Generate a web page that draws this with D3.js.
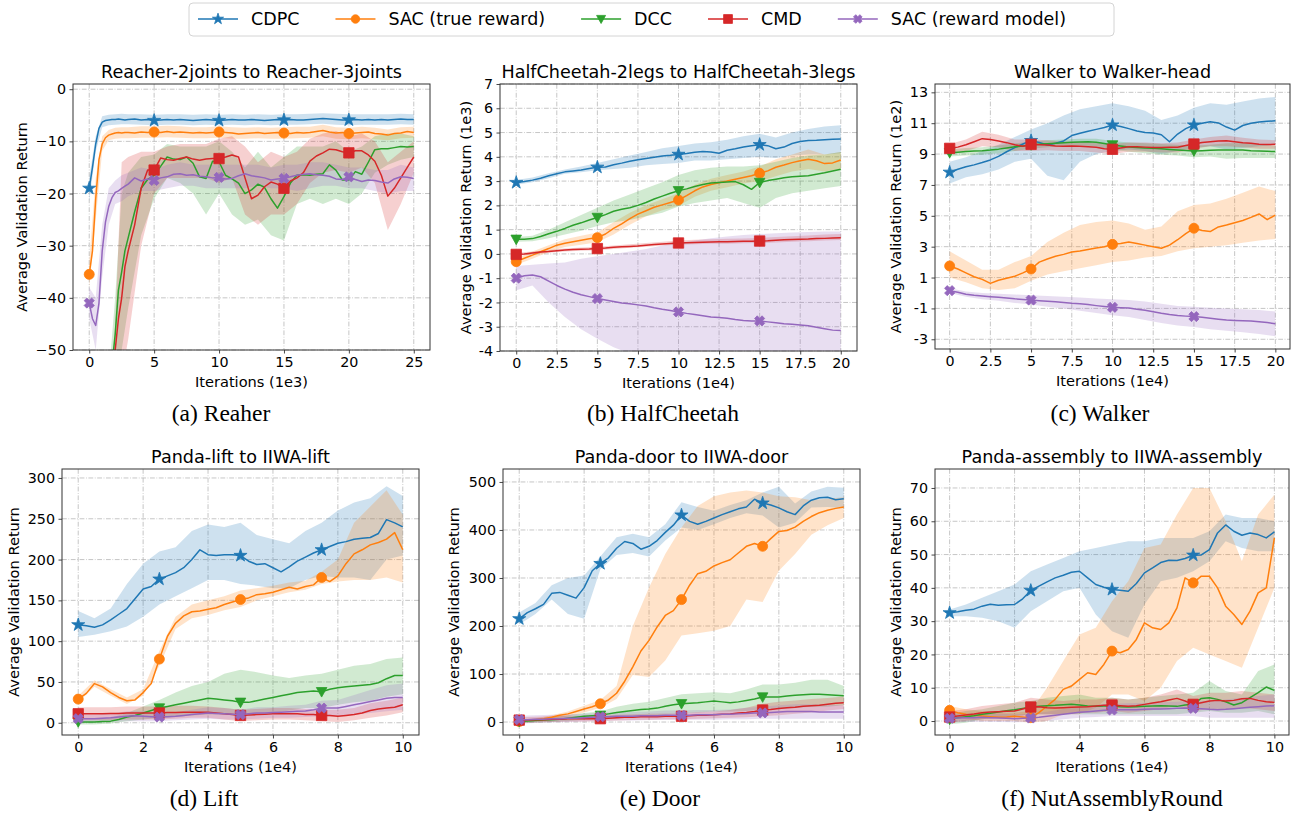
<!DOCTYPE html>
<html><head><meta charset="utf-8">
<script src="https://cdn.jsdelivr.net/npm/d3@7"></script>
<style>
body{margin:0;background:#fff}
svg{display:block}
text{font-family:"DejaVu Sans",sans-serif;fill:#000}
</style>
</head><body>
<svg id="chart" width="1294" height="819"></svg>
<script>
// ---------------- series meta ----------------
const seriesNames = ["CDPC","SAC (true reward)","DCC","CMD","SAC (reward model)"];
const seriesColors = ["#1f77b4","#ff7f0e","#2ca02c","#d62728","#9467bd"];
const seriesMarkers = ["star","circle","tri","square","x"];

// ---------------- text ----------------
const titles = ["Reacher-2joints to Reacher-3joints","HalfCheetah-2legs to HalfCheetah-3legs","Walker to Walker-head",
  "Panda-lift to IIWA-lift","Panda-door to IIWA-door","Panda-assembly to IIWA-assembly"];
const captions = ["(a) Reaher","(b) HalfCheetah","(c) Walker","(d) Lift","(e) Door","(f) NutAssemblyRound"];
const yLabels = ["Average Validation Return","Average Validation Return (1e3)","Average Validation Return (1e2)",
  "Average Validation Return","Average Validation Return","Average Validation Return"];
const xLabels = ["Iterations (1e3)","Iterations (1e4)","Iterations (1e4)","Iterations (1e4)","Iterations (1e4)","Iterations (1e4)"];

// ---------------- ticks ----------------
const xTicksA = [0,5,10,15,20,25];
const xTicksBC = [0,2.5,5,7.5,10,12.5,15,17.5,20];
const xTicksDEF = [0,2,4,6,8,10];
const yTicksA = [0,-10,-20,-30,-40,-50];
const yTicksB = [7,6,5,4,3,2,1,0,-1,-2,-3,-4];
const yTicksC = [13,11,9,7,5,3,1,-1,-3];
const yTicksD = [0,50,100,150,200,250,300];
const yTicksE = [0,100,200,300,400,500];
const yTicksF = [0,10,20,30,40,50,60,70];

// ---------------- marker positions ----------------
const markA = [0,5,10,15,20];
const markBC = [0,5,10,15];
const markDEF = [0,2.5,5,7.5];

// ================= Panel A: Reacher =================
const xA = [0,0.25,0.5,0.75,1,1.25,1.5,1.75,2,2.25,2.5,2.75,3,3.5,4,4.5,5,5.5,6,6.5,7,7.5,8,8.5,9,9.5,10,10.5,11,11.5,12,12.5,13,13.5,14,14.5,15,15.5,16,16.5,17,17.5,18,18.5,19,19.5,20,20.5,21,21.5,22,22.5,23,23.5,24,24.5,25];
const bandXA = [0,0.5,1,1.5,2,2.5,3,4,5,6,7,8,9,10,11,12,13,14,15,16,17,18,19,20,21,22,23,24,25];
const cdpcA = [-19,-15,-10.5,-7.5,-6.3,-6,-5.9,-5.8,-5.8,-5.7,-5.8,-5.9,-5.8,-5.7,-5.9,-5.8,-6,-5.9,-5.8,-5.9,-5.8,-5.9,-6,-5.9,-5.8,-5.9,-6,-5.9,-5.8,-5.9,-5.9,-5.8,-5.9,-6,-5.9,-5.8,-5.9,-5.8,-5.9,-5.9,-5.8,-5.7,-5.6,-5.7,-5.8,-5.9,-5.9,-5.8,-5.9,-5.8,-5.9,-5.8,-5.9,-5.8,-5.7,-5.8,-5.8];
const cdpcLoA = [-21.5,-12,-7.3,-6.9,-6.8,-6.7,-6.7,-6.8,-6.9,-6.8,-6.8,-6.9,-6.8,-6.9,-6.8,-6.9,-6.8,-6.9,-6.8,-6.8,-6.7,-6.6,-6.8,-6.9,-6.8,-6.8,-6.8,-6.7,-6.8];
const cdpcHiA = [-17,-9,-5.2,-4.9,-4.8,-4.7,-4.8,-4.8,-4.9,-4.8,-4.8,-4.9,-4.8,-4.9,-4.8,-4.9,-4.8,-4.9,-4.8,-4.8,-4.7,-4.6,-4.7,-4.8,-4.8,-4.8,-4.8,-4.7,-4.8];
const sacA = [-35.5,-31,-21,-13.5,-10.5,-9.3,-8.8,-8.6,-8.4,-8.3,-8.4,-8.3,-8.3,-8.4,-8.2,-8.3,-8.2,-8.3,-8.1,-8.3,-8.2,-8.3,-8.4,-8.3,-8.4,-8.3,-8.2,-8.3,-8.4,-8.6,-8.5,-8.4,-8.3,-8.5,-8.4,-8.3,-8.4,-8.5,-8.3,-8.4,-8.3,-8.1,-7.9,-8.2,-8.4,-8.3,-8.5,-8.4,-8.3,-8.2,-8.5,-8.6,-8.8,-8.5,-8.4,-8.1,-8.3];
const sacLoA = [-38,-25,-11.8,-9.8,-9.5,-9.4,-9.4,-9.3,-9.3,-9.2,-9.3,-9.4,-9.4,-9.3,-9.5,-9.5,-9.4,-9.5,-9.5,-9.4,-9.3,-9,-9.5,-9.6,-9.4,-9.6,-9.8,-9.4,-9.3];
const sacHiA = [-33,-17,-9,-7.8,-7.4,-7.3,-7.3,-7.1,-7.1,-7,-7.1,-7.3,-7.3,-7.1,-7.3,-7.4,-7.3,-7.4,-7.3,-7.2,-7.2,-6.8,-7.3,-7.4,-7.2,-7.4,-7.7,-7.3,-7.2];
const dccA = [-95,-93,-90,-86,-80,-72,-63,-53,-47,-38.5,-35,-31,-28.5,-23.5,-19,-17.3,-16.5,-14.8,-13,-13.4,-13.5,-13,-14.2,-16.8,-17.1,-13.8,-13.9,-16.5,-17.2,-18,-20,-19.3,-18.2,-18.8,-21,-22.8,-20.6,-18,-16.5,-16.4,-16.5,-16.3,-16.2,-14.5,-15.5,-17.4,-17.4,-15.8,-16.3,-14,-11.6,-11.4,-11.4,-11.2,-11,-11.1,-11];
const dccLoA = [-100,-100,-95,-78,-60,-50,-42,-28,-21,-17,-18,-20,-24,-20,-24,-26,-25,-28,-29,-22,-21,-22,-21,-22,-20,-16,-14.5,-13.5,-13];
const dccHiA = [-85,-80,-68,-55,-40,-20,-16,-13,-12.5,-10.5,-11,-11,-11,-10,-12,-15,-12,-15,-13,-11,-11,-11,-10,-12,-11,-9,-8.5,-8.5,-9];
const cmdA = [-98,-96,-94,-90,-84,-77,-68,-58,-50,-44,-40,-34,-31,-26,-19,-15.5,-15.5,-13.2,-13.5,-13.6,-13.3,-13,-13.4,-13.6,-13.4,-13.3,-13.3,-13,-12.6,-13,-17,-21,-20.3,-18.7,-17.8,-18.2,-19,-17.6,-17,-16,-13.8,-12.8,-12.2,-11.5,-11.6,-12,-12.2,-11.8,-11.8,-12.6,-13.8,-16.5,-20.5,-19,-17,-15,-13];
const cmdLoA = [-105,-100,-95,-82,-65,-55,-48,-30,-20,-17,-17,-17,-17,-18,-17,-24,-26,-24,-24,-22,-18,-16,-15.5,-16,-15,-18,-27,-22,-16];
const cmdHiA = [-90,-85,-78,-70,-45,-14,-13,-12,-12,-11,-10.5,-10.5,-10.5,-9.5,-9,-11,-14,-12,-13,-12,-9.5,-8.5,-8,-9,-8.5,-10,-14,-12,-10];
const rmA = [-41,-44,-45.3,-41,-31,-25.5,-22.5,-20.8,-19.8,-19.5,-19,-18.6,-18.2,-17,-17.6,-17.2,-17.5,-17,-16.8,-16.3,-16.2,-16.5,-16.4,-16.7,-16.8,-17,-16.9,-17.2,-17.1,-16.6,-16.2,-16.6,-16.8,-17,-17.4,-17.2,-17.1,-16.8,-16.5,-16.3,-16.2,-16.4,-16.5,-16.7,-17.2,-17.3,-16.8,-17.3,-17.7,-17.4,-17.5,-17.8,-18,-17.2,-16.8,-16.9,-17.1];
const rmLoA = [-44,-50,-36,-26,-22,-21.5,-20.5,-19.5,-19.5,-19,-18.5,-18.5,-19,-19,-19,-19,-18.5,-19,-19,-19.5,-19,-18.5,-18.5,-19,-19,-19.5,-20,-19.5,-19.5];
const rmHiA = [-38,-40,-26,-19,-17.5,-16.5,-16,-15,-15.5,-14.5,-14,-14.5,-14.5,-14.5,-14.5,-14.5,-14.5,-15,-14.5,-14.5,-14,-14,-14.5,-15,-15,-15.5,-15.5,-14.5,-15];

// ================= Panel B: HalfCheetah =================
const xB = [0,0.5,1,1.5,2,2.5,3,3.5,4,4.5,5,5.5,6,6.5,7,7.5,8,8.5,9,9.5,10,10.5,11,11.5,12,12.5,13,13.5,14,14.5,15,15.5,16,16.5,17,17.5,18,18.5,19,19.5,20];
const bandXB = [0,1,2,3,4,5,6,7,8,9,10,11,12,13,14,15,16,17,18,19,20];
const cdpcB = [2.94,2.98,3.04,3.12,3.22,3.3,3.38,3.42,3.46,3.52,3.57,3.58,3.67,3.74,3.82,3.88,3.93,3.98,4.03,4.06,4.1,4.14,4.19,4.22,4.2,4.15,4.27,4.33,4.4,4.46,4.5,4.46,4.33,4.4,4.55,4.63,4.67,4.68,4.7,4.72,4.73];
const cdpcLoB = [2.85,2.95,3.12,3.3,3.36,3.45,3.5,3.55,3.65,3.7,3.75,3.85,3.85,3.9,3.95,4.0,3.95,4.05,4.1,4.1,4.15];
const cdpcHiB = [3.05,3.15,3.32,3.48,3.6,3.75,3.9,4.05,4.2,4.35,4.45,4.55,4.6,4.7,4.85,4.95,4.8,5.0,5.15,5.25,5.3];
const sacB = [-0.32,-0.18,-0.05,0.09,0.22,0.36,0.44,0.5,0.56,0.62,0.67,0.82,1.05,1.24,1.45,1.64,1.78,1.92,2.02,2.12,2.22,2.4,2.6,2.76,2.86,2.93,3.0,3.08,3.15,3.22,3.32,3.42,3.57,3.66,3.76,3.84,3.9,3.84,3.72,3.75,3.87];
const sacLoB = [-0.45,-0.2,0.08,0.28,0.38,0.48,0.8,1.2,1.55,1.8,1.98,2.35,2.6,2.75,2.9,3.0,3.2,3.4,3.5,3.4,3.5];
const sacHiB = [-0.2,0.1,0.36,0.6,0.75,0.88,1.3,1.7,2.0,2.25,2.5,2.85,3.1,3.25,3.4,3.6,3.9,4.1,4.3,4.1,4.2];
const dccB = [0.6,0.6,0.63,0.72,0.83,0.93,1.05,1.18,1.28,1.4,1.5,1.62,1.76,1.84,1.9,2.0,2.12,2.26,2.38,2.5,2.6,2.68,2.78,2.86,2.92,2.94,2.96,2.98,2.85,2.66,2.94,3.02,3.08,3.14,3.18,3.2,3.22,3.28,3.34,3.42,3.49];
const dccLoB = [0.5,0.52,0.65,0.8,0.95,1.15,1.3,1.4,1.55,1.7,1.95,2.1,2.2,2.3,2.1,1.9,2.3,2.5,2.6,2.7,2.8];
const dccHiB = [0.7,0.75,1.0,1.3,1.6,1.9,2.2,2.45,2.7,2.95,3.25,3.45,3.55,3.6,3.6,3.65,3.8,3.95,4.05,4.1,4.2];
const cmdB = [-0.02,0.0,0.04,0.08,0.1,0.13,0.16,0.18,0.19,0.2,0.22,0.24,0.27,0.29,0.31,0.33,0.36,0.39,0.41,0.43,0.45,0.46,0.47,0.48,0.49,0.5,0.5,0.51,0.52,0.52,0.53,0.54,0.56,0.58,0.59,0.6,0.61,0.63,0.64,0.66,0.67];
const cmdLoB = [-0.08,-0.02,0.05,0.1,0.13,0.15,0.2,0.25,0.3,0.35,0.38,0.4,0.42,0.42,0.44,0.45,0.47,0.5,0.52,0.55,0.57];
const cmdHiB = [0.05,0.1,0.16,0.22,0.26,0.3,0.35,0.4,0.45,0.5,0.55,0.58,0.6,0.62,0.64,0.66,0.7,0.73,0.76,0.8,0.82];
const rmB = [-1.0,-0.9,-0.87,-0.94,-1.12,-1.3,-1.45,-1.58,-1.68,-1.76,-1.84,-1.9,-1.96,-2.02,-2.05,-2.1,-2.15,-2.22,-2.28,-2.33,-2.39,-2.45,-2.5,-2.55,-2.6,-2.62,-2.65,-2.7,-2.74,-2.76,-2.76,-2.8,-2.84,-2.88,-2.9,-2.93,-2.96,-3.02,-3.08,-3.14,-3.16];
const rmLoB = [-1.5,-1.3,-2.0,-2.6,-3.1,-3.5,-3.85,-4.1,-4.4,-4.7,-5,-5.3,-5.6,-5.9,-6.2,-6.4,-6.6,-6.8,-7,-7.2,-7.4];
const rmHiB = [-0.5,-0.45,-0.4,-0.35,-0.2,-0.1,0.0,0.1,0.2,0.35,0.45,0.55,0.65,0.72,0.78,0.82,0.85,0.88,0.9,0.92,0.92];

// ================= Panel C: Walker =================
const xC = xB;
const bandXC = bandXB;
const cdpcC = [7.82,8.02,8.18,8.3,8.45,8.62,8.85,9.15,9.42,9.65,9.87,9.75,9.59,9.7,9.85,10.2,10.35,10.48,10.6,10.72,10.88,10.78,10.65,10.5,10.4,10.36,10.25,9.8,10.3,10.65,10.88,11.0,11.1,11.02,10.75,10.55,10.85,11.0,11.08,11.12,11.16];
const cdpcLoC = [7.1,7.5,7.7,8.0,8.5,8.7,7.6,7.3,8.5,9.0,9.2,9.3,9.2,9.0,9.2,9.4,9.5,9.3,9.4,9.5,9.6];
const cdpcHiC = [8.5,8.8,9.2,9.6,10.1,10.6,11.0,11.5,11.9,12.1,12.3,12.1,11.8,11.2,11.5,12.0,12.3,12.2,12.4,12.6,12.7];
const sacC = [1.75,1.55,1.3,1.05,0.88,0.62,0.82,0.95,1.08,1.3,1.55,2.0,2.2,2.38,2.5,2.66,2.72,2.82,2.92,3.0,3.15,3.2,3.3,3.2,3.1,3.0,2.9,3.1,3.45,3.85,4.19,4.05,3.98,4.28,4.4,4.55,4.7,4.9,5.12,4.75,5.05];
const sacLoC = [1.0,0.7,0.3,0.2,0.3,0.8,1.2,1.4,1.6,1.8,2.0,2.1,2.3,2.4,2.7,2.9,3.0,3.1,3.25,3.4,3.5];
const sacHiC = [2.7,2.1,1.5,1.5,2.0,2.4,3.3,3.9,4.4,4.6,4.7,4.5,4.1,4.3,5.3,5.7,5.8,6.1,6.5,6.9,6.6];
const dccC = [9.09,9.12,9.16,9.2,9.22,9.26,9.32,9.4,9.47,9.53,9.59,9.63,9.67,9.7,9.73,9.76,9.78,9.8,9.76,9.68,9.59,9.52,9.46,9.42,9.4,9.37,9.34,9.3,9.26,9.23,9.2,9.22,9.24,9.26,9.26,9.26,9.26,9.22,9.2,9.18,9.16];
const dccLoC = [8.85,8.9,8.95,9.05,9.2,9.35,9.45,9.5,9.55,9.5,9.3,9.15,9.05,8.95,8.9,8.8,8.85,8.7,8.75,8.75,8.75];
const dccHiC = [9.3,9.4,9.45,9.55,9.7,9.8,9.9,9.95,10.0,10.0,9.85,9.75,9.7,9.65,9.6,9.55,9.6,9.7,9.7,9.6,9.55];
const cmdC = [9.37,9.45,9.6,9.8,10.0,9.95,9.85,9.74,9.6,9.5,9.63,9.6,9.58,9.52,9.5,9.52,9.5,9.47,9.44,9.35,9.31,9.4,9.48,9.48,9.45,9.42,9.42,9.45,9.44,9.55,9.65,9.75,9.8,9.85,9.87,9.8,9.74,9.7,9.63,9.62,9.63];
const cmdLoC = [9.1,9.2,9.5,9.45,9.2,9.2,9.25,9.2,9.2,9.1,9.0,9.15,9.15,9.1,9.1,9.35,9.5,9.5,9.45,9.35,9.35];
const cmdHiC = [9.65,9.95,10.45,10.25,9.95,9.95,9.9,9.8,9.8,9.75,9.65,9.75,9.75,9.7,9.75,9.95,10.1,10.2,10.05,9.95,9.9];
const rmC = [0.15,0.05,-0.08,-0.15,-0.2,-0.24,-0.28,-0.32,-0.38,-0.42,-0.46,-0.5,-0.54,-0.57,-0.62,-0.67,-0.7,-0.75,-0.82,-0.88,-0.93,-0.95,-0.98,-1.05,-1.12,-1.22,-1.32,-1.4,-1.46,-1.5,-1.53,-1.58,-1.64,-1.7,-1.75,-1.78,-1.8,-1.82,-1.86,-1.92,-2.0];
const rmLoC = [0.0,-0.25,-0.4,-0.5,-0.65,-0.75,-0.9,-1.0,-1.15,-1.3,-1.45,-1.55,-1.75,-1.95,-2.1,-2.2,-2.35,-2.45,-2.55,-2.65,-2.8];
const rmHiC = [0.3,0.1,0.0,-0.05,-0.1,-0.15,-0.2,-0.25,-0.3,-0.35,-0.4,-0.45,-0.55,-0.7,-0.85,-0.9,-0.95,-1.0,-1.05,-1.1,-1.2];

// ================= Panels D/E/F shared grid =================
const xDEF = [0,0.25,0.5,0.75,1,1.25,1.5,1.75,2,2.25,2.5,2.75,3,3.25,3.5,3.75,4,4.25,4.5,4.75,5,5.25,5.5,5.75,6,6.25,6.5,6.75,7,7.25,7.5,7.75,8,8.25,8.5,8.75,9,9.25,9.5,9.75,10];
const bandXDEF = [0,0.5,1,1.5,2,2.5,3,3.5,4,4.5,5,5.5,6,6.5,7,7.5,8,8.5,9,9.5,10];

// ================= Panel D: Lift =================
const cdpcD = [120,119,117,120,126,133,140,152,164,167,176,180,184,190,200,212,206,205,206,206,205,198,194,195,190,185,191,198,203,208,212,216,220,222,225,226,227,232,249,245,240];
const cdpcLoD = [105,108,112,118,130,145,155,165,175,175,170,168,165,165,175,180,178,178,175,200,205];
const cdpcHiD = [137,128,140,170,195,210,215,235,243,240,245,230,225,220,235,245,260,270,275,290,278];
const sacD = [29,36,48,44,37,31,27,28,37,48,78,106,122,131,136,137,139,141,145,148,151,153,157,158,160,163,166,164,167,169,178,173,180,195,207,212,218,221,225,233,212];
const sacLoD = [25,44,33,23,33,70,115,128,132,138,142,150,155,160,163,170,173,175,175,178,172];
const sacHiD = [33,52,41,31,41,88,130,145,150,155,162,165,168,172,174,185,200,245,265,285,255];
const dccD = [1,1,1,1.5,2,4,7,9,12,15,18,20,22,24,26,28,30,29,28,27,25,25,27,29,31,33,35,37,38,39,38,41,43,44,45,46,47,49,54,58,58];
const dccLoD = [-2,-2,-1,2,4,6,7,9,10,10,8,10,12,15,18,18,22,25,27,32,35];
const dccHiD = [4,4,6,12,20,28,37,45,50,60,65,62,58,55,58,60,65,70,72,78,80];
const cmdD = [11,11,11,11,11.5,11.5,12,12,12,12,12,12.5,12.5,13,13,13,13,12,11,10,9,9.5,10,10.5,11,11,11,11,10,10,9,9,8,9,10,12,15,17,18,19,22];
const cmdLoD = [3,3,3,4,4,4,5,6,6,4,2,3,4,4,3,2,1,3,6,9,13];
const cmdHiD = [19,19,19,20,20,20,21,21,20,18,16,17,18,18,17,16,16,18,24,27,31];
const rmD = [5,5,5,5.5,6,7,8,8.5,8,7.5,7,7.5,8,9,10,11,12,11.5,11,10.5,10,11,12,12,12.5,13,13.5,14,14.5,16,18,18,18,20,22,24,26,28,30,31,31];
const rmLoD = [0,0,1,2,2,2,3,4,5,4,4,5,6,6,7,8,8,10,12,14,16];
const rmHiD = [10,10,11,14,14,12,13,16,19,18,16,19,19,21,22,27,28,34,40,46,48];

// ================= Panel E: Door =================
const cdpcE = [215,228,236,245,268,270,264,258,280,315,330,342,362,376,372,360,366,378,395,410,431,418,412,418,425,432,438,444,448,464,456,452,446,438,432,450,462,467,468,463,465];
const cdpcLoE = [203,225,255,225,215,318,348,352,345,378,405,400,412,425,435,430,405,415,447,448,445];
const cdpcHiE = [228,248,285,300,305,345,385,392,385,412,458,448,440,452,462,478,490,455,480,490,488];
const sacE = [1,3,5,7,10,14,17,22,27,32,38,46,60,85,115,148,170,198,222,232,255,285,309,314,325,332,338,352,366,372,366,382,397,399,406,418,428,436,441,445,448];
const sacLoE = [-2,2,6,12,20,30,48,98,94,128,180,185,190,200,255,250,315,350,390,410,425];
const sacHiE = [4,8,14,22,34,46,75,200,280,350,405,450,470,478,482,478,470,468,462,465,468];
const dccE = [1,2,3,4,5,6,8,10,12,13,14,17,20,22,24,26,27,29,33,36,38,39,40,42,44,42,40,42,45,48,52,52,52,54,56,57,58,58,57,56,55];
const dccLoE = [-3,-1,0,2,5,6,8,10,12,15,18,20,22,22,23,26,28,30,32,32,35];
const dccHiE = [5,7,10,14,19,22,32,38,42,50,58,60,62,60,68,78,78,82,88,88,75];
const cmdE = [4,4,5,5,6,6,7,7,7,7,7,8,9,10,10,11,11,11,12,12,12,13,14,14,15,16,17,19,20,22,25,26,28,30,31,33,34,35,37,39,40];
const cmdLoE = [-2,-1,0,1,1,2,3,4,5,6,6,7,8,9,10,12,14,17,20,24,27];
const cmdHiE = [10,11,12,13,13,13,15,16,17,18,18,21,22,25,30,38,42,45,48,50,53];
const rmE = [5,5,6,6,7,7,8,8,9,10,11,11,12,12,12,13,13,13,14,14,14,14,15,15,15,16,16,17,18,19,19,20,21,22,22,22,22,21,21,21,21];
const rmLoE = [-3,-2,-1,0,1,2,3,3,4,4,4,5,5,6,6,7,7,7,7,7,7];
const rmHiE = [13,14,15,16,17,19,21,21,22,24,24,25,25,26,30,32,35,37,37,36,35];

// ================= Panel F: NutAssemblyRound =================
const cdpcF = [32.5,32.8,33.3,33.6,34.5,35.1,34.8,34.9,35,36.7,39.2,40.5,41.8,43,43.8,44.7,45,43,41,40.2,39.5,39.3,39,41.3,44.5,46,47.6,48.3,48.2,48.8,49.8,49.9,51.5,56.5,58.9,57,55.8,56.5,56,55,56.8];
const cdpcLoF = [31.5,31.5,31,30,28,33,36,39,40,32,27,25,35,42,43,45,48,54,52,51,51];
const cdpcHiF = [33.5,35,37,39,41,45,47,49,51,52,53,54,54,55,55,55,57,62,61,61,60];
const sacF = [3.2,2.5,2,1.7,1.5,1.3,1.1,1.2,1.4,1.2,1.0,2.5,4.5,6.5,9.5,10.5,12.5,14.5,14,17,21,20.5,21.5,24.5,29.5,28,27.5,29.5,34,43,41.5,43.5,43.5,40,34.5,32,29,33,38.5,40,55];
const sacLoF = [2,0.5,0,0,0,-0.5,0,2,2,4,8,8,6,10,18,22,20,18,16,28,40];
const sacHiF = [4.5,3.5,3,2.5,2.5,3,10,18,26,28,36,42,52,53,62,70,70,60,48,62,68];
const dccF = [0.5,1,1.3,1.6,2,2.3,2.7,3.1,3.4,3.8,4.2,4.4,4.6,4.7,4.9,5,4.8,4.5,4.4,4.5,4.5,4.3,4.2,4.3,4.4,4.5,4.6,4.5,4.4,4.8,5,6.8,7,6.5,5.8,4.8,5.5,7,8.5,10.2,9.2];
const dccLoF = [-1,-0.5,0.5,1,1.5,2,2,2,2,2,2,2,2,2,2,2.5,3,2.5,2.5,3,2];
const dccHiF = [2,3,3.5,4.5,5.5,6,7,7.5,8,7,7,6.5,7,7.5,8,8.5,12,9,8,15,17];
const cmdF = [1.2,1.5,1.8,2.1,2.5,2.7,2.8,2.9,3.0,3.6,4.2,4.3,4.0,3.9,4.0,4.1,4.2,4.3,4.5,4.7,4.8,4.6,4.4,4.6,5.0,5.4,5.8,6.3,6.8,6.0,5.0,5.5,6.0,6.2,6.0,6.2,6.7,6.8,6.2,5.8,5.6];
const cmdLoF = [-0.5,0,0.5,1,1,2,2,2,2.5,2.5,3,2.5,3,3.5,4.5,3,3.5,3.5,4,3.5,3];
const cmdHiF = [3,3.5,4.5,5,5.5,7,6.5,6,6.5,6.5,7,6.5,7,8,9.5,7.5,8.5,8.5,9,8.5,8];
const rmF = [0.8,0.9,1,1,1.1,1,0.9,0.8,0.7,0.8,0.9,1.1,1.4,1.7,2.0,2.3,2.6,2.8,3.0,3.2,3.3,3.4,3.4,3.4,3.5,3.6,3.6,3.7,3.8,3.9,3.8,3.7,3.5,3.4,3.5,3.7,3.9,4.1,4.3,4.5,4.6];
const rmLoF = [-0.5,-0.3,-0.2,-0.3,-0.4,-0.3,0,0.5,1,1.2,1.5,1.5,1.5,1.5,1.5,1.5,1,1,1,1,1];
const rmHiF = [2,2.2,2.4,2.2,2,2.2,2.8,3.6,4.2,4.8,5.2,5.3,5.4,5.6,5.8,6,6,6.5,7,7.5,8];

// ---------------- assemble panels ----------------
const hyphenFmt = d => String(d);
const minusFmt = d3.format("d");
const panels = [
  {x:xA, bx:bandXA, xt:xTicksA, yt:yTicksA, yf:minusFmt,
   s:[[cdpcA,cdpcLoA,cdpcHiA,markA],[sacA,sacLoA,sacHiA,markA],[dccA,dccLoA,dccHiA,[]],[cmdA,cmdLoA,cmdHiA,markA],[rmA,rmLoA,rmHiA,markA]]},
  {x:xB, bx:bandXB, xt:xTicksBC, yt:yTicksB, yf:hyphenFmt,
   s:[[cdpcB,cdpcLoB,cdpcHiB,markBC],[sacB,sacLoB,sacHiB,markBC],[dccB,dccLoB,dccHiB,markBC],[cmdB,cmdLoB,cmdHiB,markBC],[rmB,rmLoB,rmHiB,markBC]]},
  {x:xC, bx:bandXC, xt:xTicksBC, yt:yTicksC, yf:hyphenFmt,
   s:[[cdpcC,cdpcLoC,cdpcHiC,markBC],[sacC,sacLoC,sacHiC,markBC],[dccC,dccLoC,dccHiC,markBC],[cmdC,cmdLoC,cmdHiC,markBC],[rmC,rmLoC,rmHiC,markBC]]},
  {x:xDEF, bx:bandXDEF, xt:xTicksDEF, yt:yTicksD, yf:hyphenFmt,
   s:[[cdpcD,cdpcLoD,cdpcHiD,markDEF],[sacD,sacLoD,sacHiD,markDEF],[dccD,dccLoD,dccHiD,markDEF],[cmdD,cmdLoD,cmdHiD,markDEF],[rmD,rmLoD,rmHiD,markDEF]]},
  {x:xDEF, bx:bandXDEF, xt:xTicksDEF, yt:yTicksE, yf:hyphenFmt,
   s:[[cdpcE,cdpcLoE,cdpcHiE,markDEF],[sacE,sacLoE,sacHiE,markDEF],[dccE,dccLoE,dccHiE,markDEF],[cmdE,cmdLoE,cmdHiE,markDEF],[rmE,rmLoE,rmHiE,markDEF]]},
  {x:xDEF, bx:bandXDEF, xt:xTicksDEF, yt:yTicksF, yf:hyphenFmt,
   s:[[cdpcF,cdpcLoF,cdpcHiF,markDEF],[sacF,sacLoF,sacHiF,markDEF],[dccF,dccLoF,dccHiF,markDEF],[cmdF,cmdLoF,cmdHiF,markDEF],[rmF,rmLoF,rmHiF,markDEF]]}
];

// ---------------- layout (pixels) ----------------
const layout = [
  {left:73, right:430, top:84, bottom:350, xDom:[-1.25,26.25], yDom:[-50,1], yLabX:27, capX:221, capY:421},
  {left:500, right:857, top:84, bottom:351, xDom:[-1,21], yDom:[-4,7], yLabX:470.5, capX:663, capY:421},
  {left:935, right:1290, top:84, bottom:349, xDom:[-0.9,20.9], yDom:[-3.63,13.54], yLabX:900.5, capX:1100, capY:421},
  {left:62, right:419, top:469, bottom:735, xDom:[-0.5,10.5], yDom:[-15,311], yLabX:19, capX:204, capY:806},
  {left:503, right:860, top:469, bottom:735, xDom:[-0.5,10.5], yDom:[-27,527], yLabX:458.5, capX:660, capY:806},
  {left:935, right:1289, top:469, bottom:735, xDom:[-0.45,10.45], yDom:[-4.2,75.7], yLabX:900.5, capX:1112, capY:806}
];

// ---------------- marker shapes ----------------
function markerPath(shape, k) {
  k = k || 1;
  if (shape === "star") {
    const R = 6.9*k, r = R*0.382, p = [];
    for (let i = 0; i < 10; i++) {
      const a = -Math.PI/2 + i*Math.PI/5, rr = i%2 ? r : R;
      p.push([rr*Math.cos(a), rr*Math.sin(a)]);
    }
    return "M" + p.map(q => q[0].toFixed(2)+","+q[1].toFixed(2)).join("L") + "Z";
  }
  if (shape === "circle") return d3.symbol(d3.symbolCircle, Math.PI*25*k*k)();
  if (shape === "square") { const h = 5.2*k; return `M${-h},${-h}H${h}V${h}H${-h}Z`; }
  if (shape === "tri") { const h = 5.3*k; return `M${-h},${-h*0.8}L${h},${-h*0.8}L0,${h}Z`; }
  if (shape === "x") {
    const a = 1.9*k, b = 5.3*k;
    const pts = [[a,b],[a,a],[b,a],[b,-a],[a,-a],[a,-b],[-a,-b],[-a,-a],[-b,-a],[-b,a],[-a,a],[-a,b]];
    const c = Math.SQRT1_2;
    return "M" + pts.map(([x,y]) => ((x-y)*c).toFixed(2)+","+((x+y)*c).toFixed(2)).join("L") + "Z";
  }
}

const svg = d3.select("#chart");
const FONT_TICK = "14.3px", FONT_LABEL = "14.6px", FONT_TITLE = "17.6px";

panels.forEach((P, pi) => {
  const L = layout[pi];
  const xs = d3.scaleLinear().domain(L.xDom).range([L.left, L.right]);
  const ys = d3.scaleLinear().domain(L.yDom).range([L.bottom, L.top]);
  const g = svg.append("g");
  const clipId = "clip" + pi;
  g.append("clipPath").attr("id", clipId).append("rect")
    .attr("x", L.left).attr("y", L.top).attr("width", L.right - L.left).attr("height", L.bottom - L.top);

  // grid
  const grid = g.append("g").attr("stroke", "#b8b8b8").attr("stroke-width", 0.8)
    .attr("stroke-dasharray", "4.8,1.6,0.8,1.6");
  P.xt.forEach(t => grid.append("line").attr("x1", xs(t)).attr("x2", xs(t)).attr("y1", L.top).attr("y2", L.bottom));
  P.yt.forEach(t => grid.append("line").attr("x1", L.left).attr("x2", L.right).attr("y1", ys(t)).attr("y2", ys(t)));

  const plot = g.append("g").attr("clip-path", `url(#${clipId})`);

  // bands (drawn beneath all lines)
  P.s.forEach((S, si) => {
    const [m, lo, hi] = S;
    const area = d3.area().x((d, i) => xs(P.bx[i])).y0((d, i) => ys(lo[i])).y1((d, i) => ys(hi[i]));
    plot.append("path").datum(lo).attr("d", area)
      .attr("fill", seriesColors[si]).attr("fill-opacity", 0.22).attr("stroke", "none");
  });
  // lines + markers
  P.s.forEach((S, si) => {
    const [m, lo, hi, marks] = S;
    const line = d3.line().x((d, i) => xs(P.x[i])).y(d => ys(d));
    plot.append("path").datum(m).attr("d", line)
      .attr("fill", "none").attr("stroke", seriesColors[si]).attr("stroke-width", 1.5)
      .attr("stroke-linejoin", "round");
    marks.forEach(mx => {
      const idx = P.x.indexOf(mx);
      if (idx < 0) return;
      plot.append("path").attr("d", markerPath(seriesMarkers[si]))
        .attr("transform", `translate(${xs(mx)},${ys(m[idx])})`)
        .attr("fill", seriesColors[si]).attr("stroke", seriesColors[si]).attr("stroke-width", 0.8);
    });
  });

  // frame
  g.append("rect").attr("x", L.left).attr("y", L.top).attr("width", L.right - L.left).attr("height", L.bottom - L.top)
    .attr("fill", "none").attr("stroke", "#333").attr("stroke-width", 1);

  // axes
  const xAxis = g.append("g").attr("transform", `translate(0,${L.bottom})`)
    .call(d3.axisBottom(xs).tickValues(P.xt).tickFormat(hyphenFmt).tickSize(3.5).tickPadding(3.5));
  const yAxis = g.append("g").attr("transform", `translate(${L.left},0)`)
    .call(d3.axisLeft(ys).tickValues(P.yt).tickFormat(P.yf).tickSize(3.5).tickPadding(3.5));
  [xAxis, yAxis].forEach(ax => {
    ax.select(".domain").remove();
    ax.selectAll(".tick line").attr("stroke", "#333").attr("stroke-width", 0.9);
    ax.selectAll(".tick text").attr("font-size", FONT_TICK).attr("font-family", "DejaVu Sans").attr("fill", "#111");
  });

  // title
  g.append("text").attr("x", (L.left + L.right)/2).attr("y", L.top - 6)
    .attr("text-anchor", "middle").attr("font-size", FONT_TITLE).text(titles[pi]);
  // x label
  g.append("text").attr("x", (L.left + L.right)/2).attr("y", L.bottom + 37)
    .attr("text-anchor", "middle").attr("font-size", FONT_LABEL).text(xLabels[pi]);
  // y label
  g.append("text").attr("transform", `translate(${L.yLabX},${(L.top + L.bottom)/2}) rotate(-90)`)
    .attr("text-anchor", "middle").attr("font-size", FONT_LABEL).text(yLabels[pi]);
  // caption
  g.append("text").attr("x", L.capX).attr("y", L.capY).attr("text-anchor", "middle")
    .style("font-family", '"Liberation Serif","Times New Roman",serif').attr("font-size", "23.5px")
    .text(captions[pi]);
});

// ---------------- legend ----------------
const leg = svg.append("g");
const legBox = leg.append("rect").attr("x", 189).attr("y", 3).attr("width", 925).attr("height", 33)
  .attr("rx", 4).attr("fill", "#fff").attr("stroke", "#d4d4d4").attr("stroke-width", 1);
let cx = 198;
seriesNames.forEach((name, si) => {
  const cy = 19;
  leg.append("line").attr("x1", cx).attr("x2", cx + 40).attr("y1", cy).attr("y2", cy)
    .attr("stroke", seriesColors[si]).attr("stroke-width", 1.5);
  leg.append("path").attr("d", markerPath(seriesMarkers[si], 0.85))
    .attr("transform", `translate(${cx + 20},${cy})`)
    .attr("fill", seriesColors[si]).attr("stroke", seriesColors[si]).attr("stroke-width", 0.8);
  const t = leg.append("text").attr("x", cx + 53).attr("y", cy + 6.3).attr("font-size", "17.5px").text(name);
  cx = cx + 53 + t.node().getComputedTextLength() + 36;
});
</script>
</body></html>
